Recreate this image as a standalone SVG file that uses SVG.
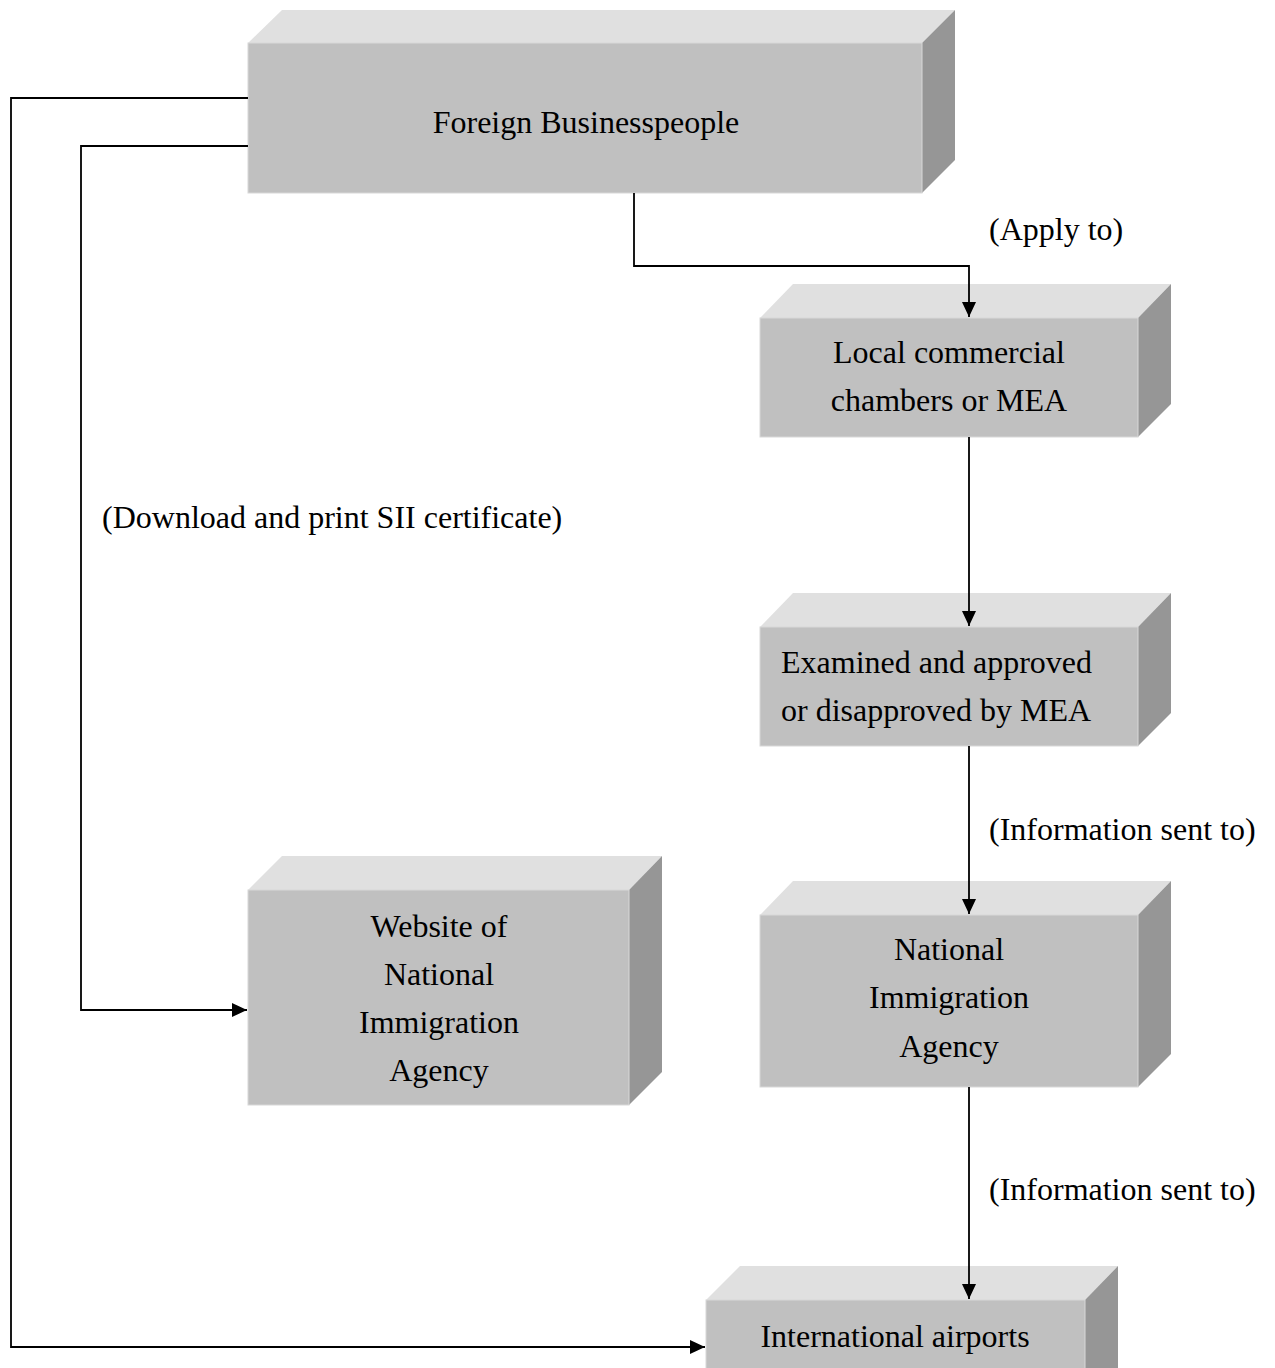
<svg xmlns="http://www.w3.org/2000/svg" width="1275" height="1368" viewBox="0 0 1275 1368">
<style>
.front{fill:#c0c0c0;stroke:#d8d8d8;stroke-width:1}
.top{fill:#e0e0e0}
.side{fill:#969696}
.t{font-family:"Liberation Serif","Times New Roman",serif;font-size:32px;fill:#000}
.c{text-anchor:middle}
.ln{fill:none;stroke:#000;stroke-width:1.8}
</style>
<defs>
<marker id="ah" viewBox="0 0 15 14" refX="15" refY="7" markerWidth="15" markerHeight="14" markerUnits="userSpaceOnUse" orient="auto">
<path d="M0,0 L15,7 L0,14 Z" fill="#000"/>
</marker>
</defs>
<rect width="1275" height="1368" fill="#fff"/>

<g id="n-foreign">
<polygon class="top" points="248,43 282,10 955,10 922,43"/>
<polygon class="side" points="922,43 955,10 955,160 922,193"/>
<rect class="front" x="248" y="43" width="674" height="150"/>
<text class="t c" x="586" y="133">Foreign Businesspeople</text>
</g>

<g id="n-local">
<polygon class="top" points="760,318 793,284 1171,284 1138,318"/>
<polygon class="side" points="1138,318 1171,284 1171,404 1138,437"/>
<rect class="front" x="760" y="318" width="378" height="119"/>
<text class="t c" x="949" y="363">Local commercial</text>
<text class="t c" x="949" y="411">chambers or MEA</text>
</g>

<g id="n-examined">
<polygon class="top" points="760,627 793,593 1171,593 1138,627"/>
<polygon class="side" points="1138,627 1171,593 1171,713 1138,746"/>
<rect class="front" x="760" y="627" width="378" height="119"/>
<text class="t" x="781" y="673">Examined and approved</text>
<text class="t" x="781" y="721">or disapproved by MEA</text>
</g>

<g id="n-nia">
<polygon class="top" points="760,915 793,881 1171,881 1138,915"/>
<polygon class="side" points="1138,915 1171,881 1171,1054 1138,1087"/>
<rect class="front" x="760" y="915" width="378" height="172"/>
<text class="t c" x="949" y="960">National</text>
<text class="t c" x="949" y="1008">Immigration</text>
<text class="t c" x="949" y="1057">Agency</text>
</g>

<g id="n-website">
<polygon class="top" points="248,890 282,856 662,856 629,890"/>
<polygon class="side" points="629,890 662,856 662,1072 629,1105"/>
<rect class="front" x="248" y="890" width="381" height="215"/>
<text class="t c" x="439" y="937">Website of</text>
<text class="t c" x="439" y="985">National</text>
<text class="t c" x="439" y="1033">Immigration</text>
<text class="t c" x="439" y="1081">Agency</text>
</g>

<g id="n-airports">
<polygon class="top" points="706,1300 740,1266 1118,1266 1085,1300"/>
<polygon class="side" points="1085,1300 1118,1266 1118,1368 1085,1368"/>
<rect class="front" x="706" y="1300" width="379" height="80"/>
<text class="t c" x="895" y="1347">International airports</text>
</g>

<g id="connectors">
<polyline class="ln" points="634,193 634,266 969,266 969,317" marker-end="url(#ah)"/>
<line class="ln" x1="969" y1="437" x2="969" y2="626" marker-end="url(#ah)"/>
<line class="ln" x1="969" y1="746" x2="969" y2="914" marker-end="url(#ah)"/>
<line class="ln" x1="969" y1="1087" x2="969" y2="1299" marker-end="url(#ah)"/>
<polyline class="ln" points="248,98 11,98 11,1347 705,1347" marker-end="url(#ah)"/>
<polyline class="ln" points="248,146 81,146 81,1010 247,1010" marker-end="url(#ah)"/>
</g>

<g id="labels">
<text class="t" x="989" y="240">(Apply to)</text>
<text class="t" x="102" y="528">(Download and print SII certificate)</text>
<text class="t" x="989" y="840">(Information sent to)</text>
<text class="t" x="989" y="1200">(Information sent to)</text>
</g>
</svg>
